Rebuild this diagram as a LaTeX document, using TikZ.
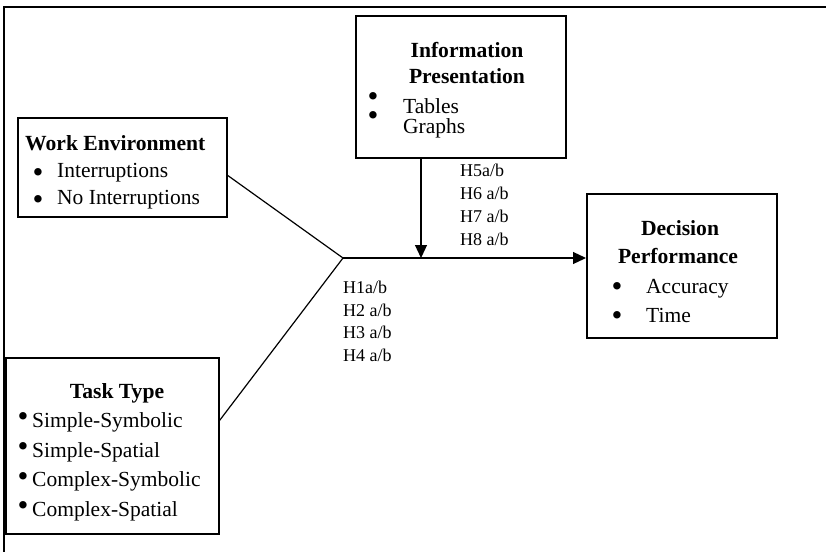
\documentclass[tikz,border=0pt]{standalone}
\usepackage{fontspec}
\setmainfont{Liberation Serif}
\usetikzlibrary{arrows.meta,calc}
\begin{document}
\begin{tikzpicture}[x=1pt,y=-1pt,
  box/.style={draw,line width=1.5pt,anchor=north west,inner sep=0pt},
  ttl/.style={font=\fontsize{21.6}{24}\selectfont\bfseries,anchor=base,inner sep=0pt},
  itm/.style={font=\fontsize{21.5}{24}\selectfont,anchor=base west,inner sep=0pt},
  bul/.style={font=\fontsize{31}{24}\selectfont,anchor=center,inner sep=0pt,yshift=-3pt},
  hyp/.style={font=\fontsize{18}{22}\selectfont,anchor=base west,inner sep=0pt},
  conn/.style={line width=1.2pt},
  arr/.style={conn,-{Triangle[length=13pt,width=12pt]}}]
\useasboundingbox (0,0) rectangle (826,552);
% outer frame
\draw[line width=1.8pt] (826,7) -- (4,7) -- (4,552);

% boxes
\node[box,minimum width=209pt,minimum height=99pt] (work) at (17,117) {};
\node[box,minimum width=210pt,minimum height=142pt] (info) at (355,15) {};
\node[box,minimum width=190pt,minimum height=144pt] (dec) at (586,193) {};
\node[box,minimum width=213pt,minimum height=176pt] (task) at (5,357) {};

% Work Environment
\node[ttl,anchor=base west] (wt) at (25,150) {Work Environment};
\node[bul] (wb1) at (38,173) {•};
\node[bul] (wb2) at (38,200) {•};
\node[itm] (wi1) at (57,177) {Interruptions};
\node[itm] (wi2) at (57,204) {No Interruptions};

% Information Presentation
\node[ttl] (it1) at (467,57) {Information};
\node[ttl] (it2) at (467,83) {Presentation};
\node[bul] (ib1) at (373,97) {•};
\node[bul] (ib2) at (373,116) {•};
\node[itm] (ii1) at (403,113) {Tables};
\node[itm] (ii2) at (403,133) {Graphs};

% Decision Performance
\node[ttl] (dt1) at (680,235) {Decision};
\node[ttl] (dt2) at (678,263) {Performance};
\node[bul] (db1) at (617,287) {•};
\node[bul] (db2) at (617,316) {•};
\node[itm] (di1) at (646,293) {Accuracy};
\node[itm] (di2) at (646,322) {Time};

% Task Type
\node[ttl] (tt) at (117,398) {Task Type};
\node[bul] (tb1) at (23,417) {•};
\node[bul] (tb2) at (23,447) {•};
\node[bul] (tb3) at (23,477) {•};
\node[bul] (tb4) at (23,506) {•};
\node[itm] (ti1) at (32,427) {Simple-Symbolic};
\node[itm] (ti2) at (32,457) {Simple-Spatial};
\node[itm] (ti3) at (32,486) {Complex-Symbolic};
\node[itm] (ti4) at (32,516) {Complex-Spatial};

% hypotheses
\node[hyp] (h5) at (460,176) {H5a/b};
\node[hyp] (h6) at (460,199) {H6 a/b};
\node[hyp] (h7) at (460,222) {H7 a/b};
\node[hyp] (h8) at (460,245) {H8 a/b};
\node[hyp] (h1) at (343,293) {H1a/b};
\node[hyp] (h2) at (343,316) {H2 a/b};
\node[hyp] (h3) at (343,338) {H3 a/b};
\node[hyp] (h4) at (343,361) {H4 a/b};

% connectors
\coordinate (j) at (343,258);
\coordinate (m) at (421,258);
\draw[conn] ($(work.north east)!0.58!(work.south east)$) -- (j);
\draw[conn] ($(task.north east)!0.358!(task.south east)$) -- (j);
\draw[arr] (j) -- (dec.west |- j);
\draw[arr] (m |- info.south) -- (m);
\end{tikzpicture}
\end{document}
